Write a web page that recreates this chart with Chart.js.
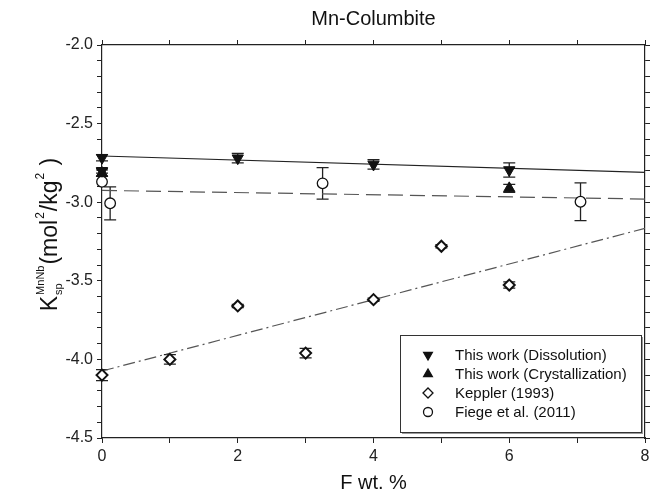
<!DOCTYPE html>
<html>
<head>
<meta charset="utf-8">
<script src="https://cdn.jsdelivr.net/npm/chart.js@4.4.0/dist/chart.umd.min.js"></script>
<style>
    html, body { margin: 0; padding: 0; background: #fff; }
</style>
</head>
<body>
<canvas id="chart" width="664" height="495"></canvas>
<script>
// values
const dissX = [0, 0, 2, 4, 6];
const dissY = [-2.717, -2.80, -2.72, -2.76, -2.795];
const dissErr = [0.02, 0.015, 0.03, 0.03, 0.045];

const crysX = [0, 6];
const crysY = [-2.815, -2.912];
const crysErr = [0.02, 0.025];

const kepX = [0, 1, 2, 3, 4, 5, 6];
const kepY = [-4.10, -4.00, -3.66, -3.96, -3.62, -3.28, -3.527];
const kepErr = [0.035, 0.03, 0.01, 0.03, 0.01, 0.01, 0.02];

const fieX = [0, 0.12, 3.25, 7.05];
const fieY = [-2.87, -3.007, -2.88, -2.997];
const fieErr = [0, 0.105, 0.10, 0.12];

// fitted lines (end points at x = 0 and x = 8)
const fitX = [0, 8];
const fitDiss = [-2.706, -2.81];
const fitFie = [-2.925, -2.98];
const fitKep = [-4.074, -3.166];

const legendLabels = ["This work (Dissolution)", "This work (Crystallization)", "Keppler (1993)", "Fiege et al. (2011)"];

Chart.defaults.font.family = "'Liberation Sans', Arial, sans-serif";
Chart.defaults.color = "#222";

function pts(xs, ys) {
    return xs.map((x, i) => ({x: x, y: ys[i]}));
}

const errorBars = {
    id: "errorBars",
    beforeDatasetsDraw(chart) {
        const ctx = chart.ctx;
        const xs = chart.scales.x, ys = chart.scales.y;
        ctx.save();
        ctx.strokeStyle = "#222";
        ctx.lineWidth = 1.3;
        chart.data.datasets.forEach(ds => {
            if (!ds.errors) return;
            ds.data.forEach((p, i) => {
                const e = ds.errors[i];
                if (!e) return;
                const px = xs.getPixelForValue(p.x);
                const y1 = ys.getPixelForValue(p.y + e);
                const y2 = ys.getPixelForValue(p.y - e);
                ctx.beginPath();
                ctx.moveTo(px, y1); ctx.lineTo(px, y2);
                ctx.moveTo(px - 6, y1); ctx.lineTo(px + 6, y1);
                ctx.moveTo(px - 6, y2); ctx.lineTo(px + 6, y2);
                ctx.stroke();
            });
        });
        ctx.restore();
    }
};

const decorations = {
    id: "decorations",
    afterDraw(chart) {
        const ctx = chart.ctx;
        const area = chart.chartArea;
        ctx.save();
        // title
        ctx.fillStyle = "#111";
        ctx.font = "20px 'Liberation Sans', Arial, sans-serif";
        ctx.textAlign = "center";
        ctx.textBaseline = "middle";
        ctx.fillText("Mn-Columbite", (area.left + area.right) / 2, 19);

        // y axis title, rotated
        const big = "23px 'Liberation Sans', Arial, sans-serif";
        const small = "11px 'Liberation Sans', Arial, sans-serif";
        const sup = "12px 'Liberation Sans', Arial, sans-serif";
        const parts = [
            {t: "K", f: big, dy: 0},
            {t: "MnNb", f: small, dy: -13, sub: "sp"},
            {t: "(mol", f: big, dy: 0},
            {t: "2", f: sup, dy: -13},
            {t: "/kg", f: big, dy: 0},
            {t: "2", f: sup, dy: -13},
            {t: " )", f: big, dy: 0}
        ];
        ctx.textAlign = "left";
        ctx.textBaseline = "alphabetic";
        let total = 0;
        parts.forEach(p => {
            ctx.font = p.f;
            p.w = ctx.measureText(p.t).width + 1;
            total += p.w;
        });
        ctx.translate(57, 234);
        ctx.rotate(-Math.PI / 2);
        let cx = -total / 2;
        parts.forEach(p => {
            ctx.font = p.f;
            ctx.fillText(p.t, cx, p.dy);
            if (p.sub) ctx.fillText(p.sub, cx, 5);
            cx += p.w;
        });
        ctx.restore();

        // legend box
        ctx.save();
        const bx = 400, by = 335, bw = 241, bh = 97;
        ctx.fillStyle = "#999";
        ctx.fillRect(bx + 2, by + 2, bw, bh);
        ctx.fillStyle = "#fff";
        ctx.fillRect(bx, by, bw, bh);
        ctx.strokeStyle = "#333";
        ctx.lineWidth = 1;
        ctx.strokeRect(bx + 0.5, by + 0.5, bw, bh);
        ctx.font = "15px 'Liberation Sans', Arial, sans-serif";
        ctx.textAlign = "left";
        ctx.textBaseline = "middle";
        const rowY = [355, 374, 393, 412];
        chart.data.datasets.slice(0, 4).forEach((ds, i) => {
            const style = {
                pointStyle: ds.pointStyle,
                rotation: ds.pointRotation || 0,
                radius: ds.legendRadius,
                borderWidth: 1.3
            };
            ctx.fillStyle = ds.pointBackgroundColor;
            ctx.strokeStyle = "#111";
            ctx.lineWidth = 1.3;
            Chart.helpers.drawPoint(ctx, style, 428, rowY[i]);
            ctx.fillStyle = "#111";
            ctx.fillText(legendLabels[i], 455, rowY[i] + 1);
        });
        ctx.restore();
    }
};

const tickCol = "#222";

new Chart(document.getElementById("chart"), {
    type: "scatter",
    data: {
        datasets: [
            {
                label: legendLabels[0], data: pts(dissX, dissY), errors: dissErr, clip: false,
                pointStyle: "triangle", pointRotation: 180, pointRadius: 6.5, legendRadius: 5,
                pointBackgroundColor: "#111", pointBorderColor: "#111", pointBorderWidth: 1
            },
            {
                label: legendLabels[1], data: pts(crysX, crysY), errors: crysErr, clip: false,
                pointStyle: "triangle", pointRadius: 6.5, legendRadius: 5,
                pointBackgroundColor: "#111", pointBorderColor: "#111", pointBorderWidth: 1
            },
            {
                label: legendLabels[2], data: pts(kepX, kepY), errors: kepErr, clip: false,
                pointStyle: "rectRot", pointRadius: 5.5, legendRadius: 5,
                pointBackgroundColor: "#fff", pointBorderColor: "#111", pointBorderWidth: 2
            },
            {
                label: legendLabels[3], data: pts(fieX, fieY), errors: fieErr, clip: false,
                pointStyle: "circle", pointRadius: 5.3, legendRadius: 4.5,
                pointBackgroundColor: "#fff", pointBorderColor: "#111", pointBorderWidth: 1.3
            },
            {
                label: "fit dissolution", data: pts(fitX, fitDiss), showLine: true,
                pointRadius: 0, borderColor: "#222", borderWidth: 1.1
            },
            {
                label: "fit Fiege", data: pts(fitX, fitFie), showLine: true,
                pointRadius: 0, borderColor: "#555", borderWidth: 1.2, borderDash: [15, 7]
            },
            {
                label: "fit Keppler", data: pts(fitX, fitKep), showLine: true,
                pointRadius: 0, borderColor: "#555", borderWidth: 1.2, borderDash: [12, 4, 2, 4]
            }
        ]
    },
    options: {
        responsive: false,
        animation: false,
        devicePixelRatio: 1,
        layout: {padding: {top: 40, right: 14, left: 0, bottom: 0}},
        plugins: {legend: {display: false}, tooltip: {enabled: false}},
        scales: {
            x: {
                type: "linear", position: "bottom", min: 0, max: 8,
                ticks: {
                    stepSize: 1, autoSkip: false, maxRotation: 0, padding: 4,
                    font: {size: 16}, color: "#222",
                    callback: v => (v % 2 === 0 ? String(v) : "")
                },
                grid: {drawOnChartArea: false, tickLength: 5, color: tickCol},
                border: {display: true, color: tickCol, width: 1.2},
                title: {display: true, text: "F wt. %", font: {size: 20}, color: "#111", padding: {top: 0, bottom: 0}},
                afterFit: s => { s.height = 57; }
            },
            x2: {
                type: "linear", position: "top", min: 0, max: 8,
                ticks: {display: false, stepSize: 1, autoSkip: false},
                grid: {drawOnChartArea: false, tickLength: 5, color: tickCol},
                border: {display: true, color: tickCol, width: 1.2},
                afterFit: s => { s.height = 5; }
            },
            y: {
                type: "linear", position: "left", min: -4.5, max: -2.0,
                ticks: {
                    stepSize: 0.1, autoSkip: false, padding: 4,
                    font: {size: 16}, color: "#222",
                    callback: v => (Math.abs(v * 2 - Math.round(v * 2)) < 1e-6 ? v.toFixed(1) : "")
                },
                grid: {drawOnChartArea: false, tickLength: 5, color: tickCol},
                border: {display: true, color: tickCol, width: 1.2},
                afterFit: s => { s.width = 102; }
            },
            y2: {
                type: "linear", position: "right", min: -4.5, max: -2.0,
                ticks: {display: false, stepSize: 0.1, autoSkip: false},
                grid: {drawOnChartArea: false, tickLength: 5, color: tickCol},
                border: {display: true, color: tickCol, width: 1.2},
                afterFit: s => { s.width = 5; }
            }
        }
    },
    plugins: [errorBars, decorations]
});
</script>
</body>
</html>
